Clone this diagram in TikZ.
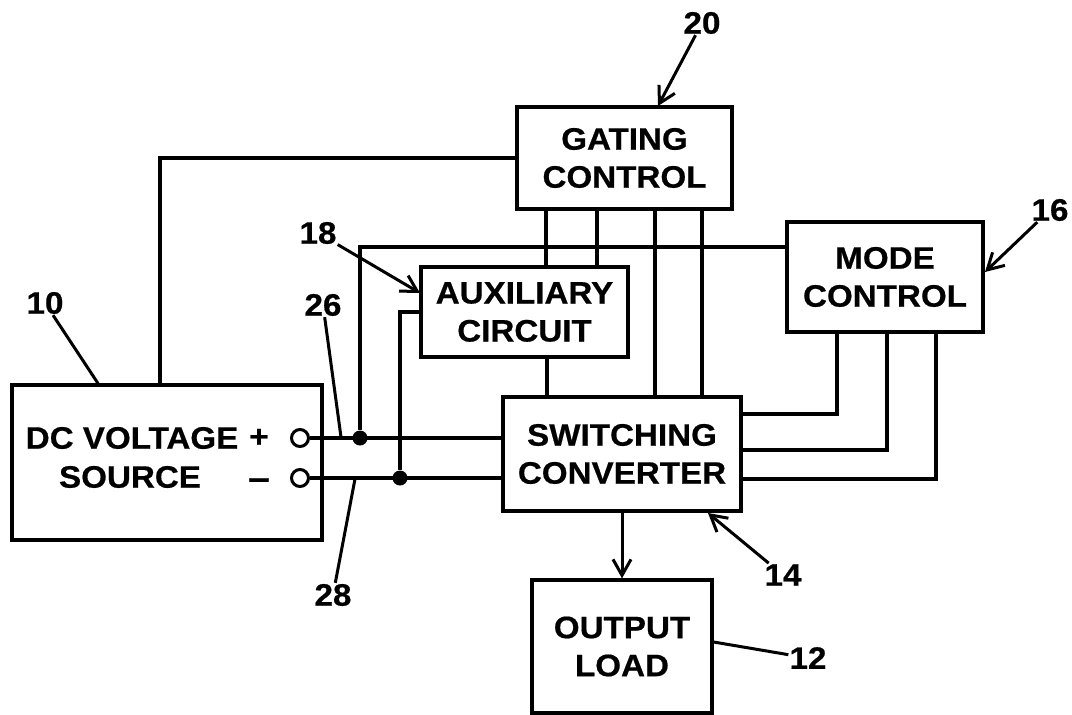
\documentclass[tikz,border=0pt]{standalone}
\usepackage{fontspec}
\setmainfont{Liberation Sans}[FakeStretch=1.07, BoldFeatures={FakeBold=0.6}]
\usepackage{tikz}
\usetikzlibrary{positioning, arrows.meta, calc}

\begin{document}
\begin{tikzpicture}[
    x=1pt, y=-1pt,
    blk/.style={draw, line width=3.2pt, align=center, inner sep=0pt,
                font=\fontsize{31}{38}\selectfont\bfseries},
    tag/.style={inner sep=1pt, font=\fontsize{31}{36}\selectfont\bfseries},
    term/.style={draw, circle, fill=white, line width=3pt, minimum size=17pt, inner sep=0pt},
    jdot/.style={circle, fill=black, minimum size=15pt, inner sep=0pt},
    wire/.style={line width=3.2pt},
    lead/.style={line width=3pt},
    arr/.style={-{Straight Barb[length=16pt, width=18pt]}, line width=3pt},
]
\useasboundingbox (0,0) rectangle (1072,715);

% DC source
\node[blk, minimum width=310pt, minimum height=155pt] (src) at (167,462.5) {};
\node[tag] (srcA) at (132,438) {DC VOLTAGE};
\node[tag] (srcB) at (130,477) {SOURCE};
\node[tag] (plus) at (259,438) {+};
\node[tag, font=\fontsize{36}{36}\selectfont\bfseries] (minus) at (259,484) {\textendash};

% Blocks
\node[blk, minimum width=215pt, minimum height=102pt] (gate) at (624.5,158) {GATING\\CONTROL};
\node[blk, minimum width=207pt, minimum height=90pt] (aux) at (524.5,312) {AUXILIARY\\CIRCUIT};
\node[blk, minimum width=196pt, minimum height=110pt] (mode) at (885,277) {MODE\\CONTROL};
\node[blk, minimum width=238pt, minimum height=114pt] (conv) at (622,454) {SWITCHING\\CONVERTER};
\node[blk, minimum width=180pt, minimum height=133pt] (load) at (622,646.5) {OUTPUT\\LOAD};

% Terminals and junctions
\node[term] (tp) at (300,438) {};
\node[term] (tn) at (300,478) {};
\node[jdot] (jp) at (360,438) {};
\node[jdot] (jn) at (400,478) {};

% Supply rails
\draw[wire] (tp) -- (tp -| conv.west);
\draw[wire] (tn) -- (tn -| conv.west);
\draw[wire] (mode.west |- 0,247) -| (jp);
\draw[wire] (aux.west) -| (jn);
\draw[wire] ([xshift=-7pt]src.north) |- (gate.west);

% Gating control outputs
\foreach \x in {546,597} \draw[wire] (\x,0 |- gate.south) -- (\x,0 |- aux.north);
\foreach \x in {655,702} \draw[wire] (\x,0 |- gate.south) -- (\x,0 |- conv.north);
\draw[wire] (547,0 |- aux.south) -- (547,0 |- conv.north);

% Mode control lines
\foreach \y/\x in {414/837, 450/887, 479/936}
  \draw[wire] (conv.east |- 0,\y) -| (\x,0 |- mode.south);

\draw[arr] (conv) -- (load);

% Reference numerals
\node[tag] (l10) at (45,303) {10};
\node[tag] (l26) at (323,305) {26};
\node[tag] (l28) at (333,595) {28};
\node[tag] (l18) at (318,233) {18};
\node[tag] (l20) at (702,23) {20};
\node[tag] (l16) at (1050,210) {16};
\node[tag] (l14) at (783,575) {14};
\node[tag] (l12) at (808,658) {12};

\coordinate (t18) at (420,293);
\coordinate (t20) at (658,106);
\coordinate (t16) at (985,272);
\coordinate (t14) at (708,513);

\draw[lead] (l10) -- (98,0 |- src.north);
\draw[lead] (l26) -- (341,437);
\draw[lead] (l28) -- (355,479);
\draw[lead] (l12) -- (load.east |- 0,642);
\draw[arr] (l18) -- (t18);
\draw[arr] (l20) -- (t20);
\draw[arr] (l16) -- (t16);
\draw[arr] (l14) -- (t14);

\end{tikzpicture}
\end{document}
